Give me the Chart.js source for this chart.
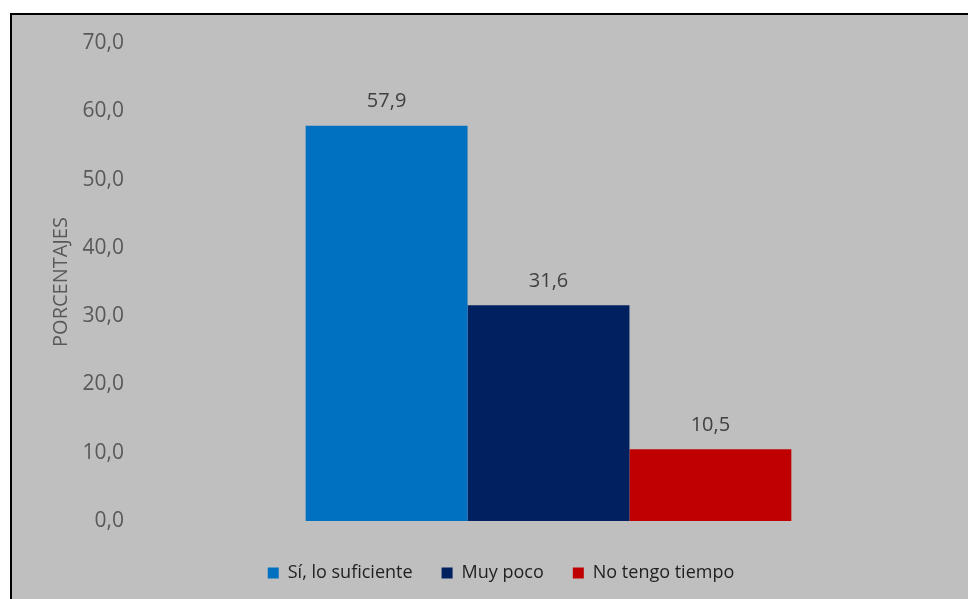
<!DOCTYPE html>
<html>
<head>
<meta charset="utf-8">
<script src="https://cdn.jsdelivr.net/npm/chart.js@4"></script>
<style>
html,body{margin:0;padding:0;background:#fff;}
#wrap{position:relative;width:968px;height:599px;}
</style>
</head>
<body>
<div id="wrap"><canvas id="c" width="968" height="599"></canvas></div>
<script>
const categories = [""];
const seriesNames = ["Sí, lo suficiente", "Muy poco", "No tengo tiempo"];
const seriesValues = [[57.9], [31.6], [10.5]];
const seriesColors = ["#0070C0", "#002060", "#C00000"];
const yTicks = { min: 0, max: 70, step: 10 };
const yTitle = "PORCENTAJES";

const fmt = v => Number(v).toFixed(1).replace('.', ',');

const bgPlugin = {
  id: 'bg',
  beforeDraw(chart) {
    const ctx = chart.ctx;
    ctx.save();
    ctx.fillStyle = '#ffffff';
    ctx.fillRect(0, 0, chart.width, chart.height);
    ctx.fillStyle = '#BFBFBF';
    ctx.fillRect(11, 14, chart.width - 11, chart.height - 14);
    ctx.strokeStyle = '#000000';
    ctx.lineWidth = 2;
    ctx.beginPath();
    ctx.moveTo(11, chart.height + 5);
    ctx.lineTo(11, 14);
    ctx.lineTo(chart.width + 5, 14);
    ctx.stroke();
    ctx.restore();
  }
};

const legendShift = {
  id: 'legendShift',
  afterLayout(chart) {
    const lg = chart.legend;
    const h = lg.bottom - lg.top;
    lg.top = chart.height - 22 - h + 15;
    lg.bottom = lg.top + h;
  }
};

const labelPlugin = {
  id: 'dataLabels',
  afterDatasetsDraw(chart) {
    const ctx = chart.ctx;
    ctx.save();
    ctx.font = '20px "Open Sans"';
    ctx.fillStyle = '#404040';
    ctx.textAlign = 'center';
    ctx.textBaseline = 'middle';
    chart.data.datasets.forEach((ds, i) => {
      const meta = chart.getDatasetMeta(i);
      meta.data.forEach((bar, j) => {
        ctx.fillText(fmt(ds.data[j]), bar.x, bar.y - 24);
      });
    });
    ctx.restore();
  }
};

new Chart(document.getElementById('c'), {
  type: 'bar',
  data: {
    labels: categories,
    datasets: seriesNames.map((n, i) => ({
      label: n,
      data: seriesValues[i],
      backgroundColor: seriesColors[i],
      borderWidth: 0,
      barPercentage: 1,
      categoryPercentage: 0.593
    }))
  },
  options: {
    responsive: false,
    animation: false,
    devicePixelRatio: 1,
    layout: { padding: { left: 44, right: 10, top: 43, bottom: 21 } },
    plugins: {
      legend: {
        position: 'bottom',
        labels: {
          boxWidth: 11, boxHeight: 11, padding: 29,
          color: '#1f1f1f',
          font: { family: '"Open Sans"', size: 18 }
        }
      },
      tooltip: { enabled: false }
    },
    scales: {
      x: { display: false },
      y: {
        min: yTicks.min, max: yTicks.max,
        afterFit(scale) { scale.width = 95; },
        grid: { display: false, drawTicks: false },
        border: { display: false },
        ticks: {
          stepSize: yTicks.step,
          padding: 15,
          color: '#595959',
          font: { family: '"Open Sans"', size: 21 },
          callback: v => fmt(v)
        },
        title: {
          display: true, text: yTitle, color: '#595959',
          font: { family: '"Open Sans"', size: 20 },
          padding: { top: 5, bottom: 0 }
        }
      }
    }
  },
  plugins: [bgPlugin, legendShift, labelPlugin]
});
</script>
</body>
</html>
